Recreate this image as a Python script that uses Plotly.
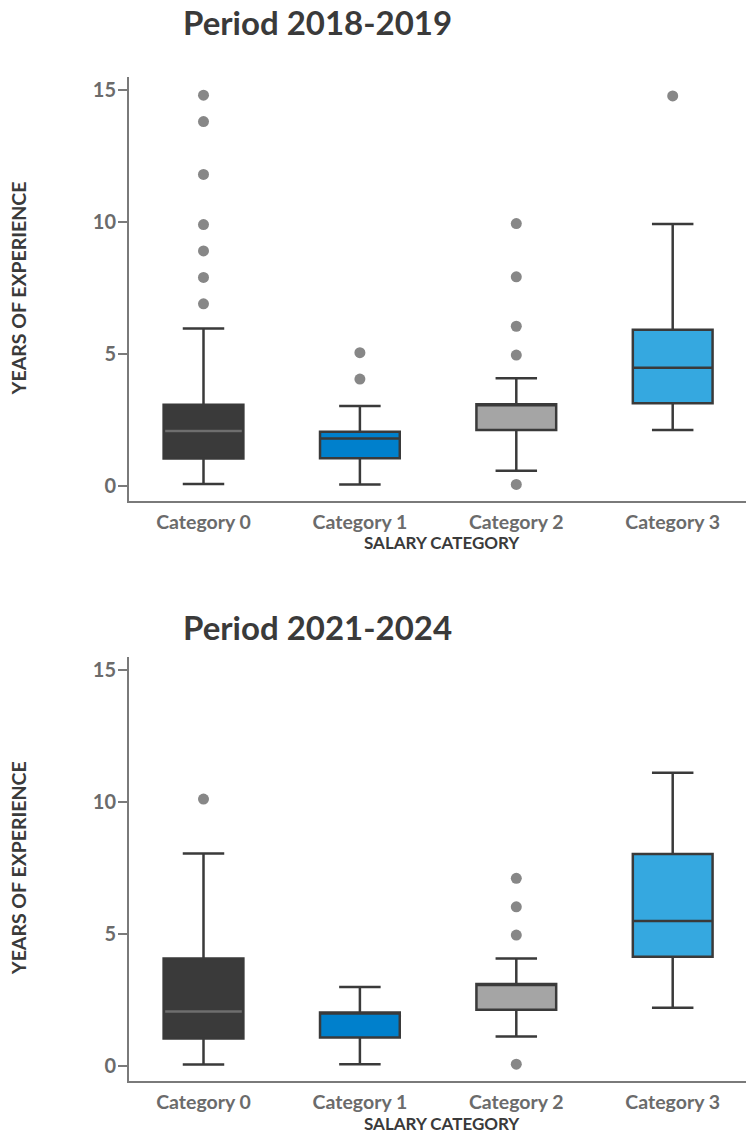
import plotly.graph_objects as go

# page body has an 8px margin: screen px = figure px + 8
OFF = 8
W, H = 754 - OFF, 1136 - OFF

categories = ["Category 0", "Category 1", "Category 2", "Category 3"]
y_ticks = [0, 5, 10, 15]

# Period 2018-2019
p1_lower = [0.08, 0.06, 0.58, 2.12]
p1_q1 = [1.04, 1.05, 2.12, 3.13]
p1_median = [2.08, 1.80, 3.10, 4.48]
p1_q3 = [3.08, 2.05, 3.10, 5.92]
p1_upper = [5.96, 3.03, 4.08, 9.92]
p1_outliers = [
    [6.9, 7.9, 8.9, 9.9, 11.8, 13.8, 14.8],
    [4.05, 5.05],
    [0.06, 4.96, 6.05, 7.92, 9.94],
    [14.77],
]

# Period 2021-2024
p2_lower = [0.05, 0.06, 1.11, 2.20]
p2_q1 = [1.03, 1.07, 2.12, 4.13]
p2_median = [2.06, 2.02, 3.10, 5.48]
p2_q3 = [4.06, 2.02, 3.10, 8.02]
p2_upper = [8.04, 2.98, 4.06, 11.10]
p2_outliers = [
    [10.1],
    [],
    [0.06, 4.95, 6.02, 7.1],
    [],
]

titles = ["Period 2018-2019", "Period 2021-2024"]

fills = ["#3a3a3a", "#0080cc", "#a5a5a5", "#35a8e0"]
EDGE = "#3a3a3a"
AXIS = "#7a7a7a"
TICKTXT = "#6b6b6b"
DARK = "#3a3a3a"
FONT = "Lato"

# screen-pixel layout of the reference
x_left, x_right = 129, 762
panels_px = [(76.7, 500.7), (656.5, 1080.5)]
title_y_px = [22, 627]
xtitle_y_px = [543, 1123]

def px_x(v):
    return (v - OFF) / W

def px_y(v):
    return 1 - (v - OFF) / H

fig = go.Figure()

datasets = [
    (p1_lower, p1_q1, p1_median, p1_q3, p1_upper, p1_outliers),
    (p2_lower, p2_q1, p2_median, p2_q3, p2_upper, p2_outliers),
]

for pi, (lo, q1, md, q3, up, outs) in enumerate(datasets):
    xa = "x" if pi == 0 else "x2"
    ya = "y" if pi == 0 else "y2"
    for ci, cat in enumerate(categories):
        fig.add_trace(go.Box(
            x=[cat], q1=[q1[ci]], median=[md[ci]], q3=[q3[ci]],
            lowerfence=[lo[ci]], upperfence=[up[ci]],
            fillcolor=fills[ci], line=dict(color=EDGE, width=2.5),
            width=0.51, whiskerwidth=0.52, boxpoints=False,
            xaxis=xa, yaxis=ya, showlegend=False, hoverinfo="skip",
        ))
        if ci == 0:
            # lighter median line on the dark box
            fig.add_trace(go.Box(
                x=[cat], q1=[md[ci]], median=[md[ci]], q3=[md[ci]],
                lowerfence=[md[ci]], upperfence=[md[ci]],
                fillcolor="rgba(0,0,0,0)", line=dict(color="#6e6e6e", width=2.5),
                width=0.49, whiskerwidth=0, boxpoints=False,
                xaxis=xa, yaxis=ya, showlegend=False, hoverinfo="skip",
            ))
        if outs[ci]:
            fig.add_trace(go.Scatter(
                x=[cat] * len(outs[ci]), y=outs[ci], mode="markers",
                marker=dict(color="#878787", size=11),
                xaxis=xa, yaxis=ya, showlegend=False, hoverinfo="skip",
            ))

xdom = [px_x(x_left), min(1.0, px_x(x_right))]
x_span = (min(x_right, 754) - x_left)
xr0 = -(203.5 - x_left) / 156.4
xr1 = xr0 + x_span / 156.4

axis_common_x = dict(
    type="category", categoryorder="array", categoryarray=categories,
    range=[xr0, xr1], domain=xdom, showline=True, linecolor=AXIS, linewidth=2,
    showgrid=False, zeroline=False, ticks="", ticklabelstandoff=3,
    tickfont=dict(family=FONT, size=19.5, color=TICKTXT, weight="bold"),
    fixedrange=True,
)
axis_common_y = dict(
    range=[-0.557, 15.5], tickvals=y_ticks, showline=True, linecolor=AXIS,
    linewidth=2, showgrid=False, zeroline=False, ticks="outside", ticklen=9,
    tickwidth=2, tickcolor=AXIS, ticklabelstandoff=-2,
    tickfont=dict(family=FONT, size=20, color=TICKTXT, weight="bold"),
    fixedrange=True,
)

fig.update_layout(
    width=W, height=H, margin=dict(l=0, r=0, t=0, b=0),
    paper_bgcolor="white", plot_bgcolor="white",
    xaxis=dict(axis_common_x, anchor="y"),
    yaxis=dict(axis_common_y, domain=[px_y(panels_px[0][1]), px_y(panels_px[0][0])], anchor="x"),
    xaxis2=dict(axis_common_x, anchor="y2"),
    yaxis2=dict(axis_common_y, domain=[px_y(panels_px[1][1]), px_y(panels_px[1][0])], anchor="x2"),
    boxmode="overlay",
)

annotations = []
for pi in range(2):
    top, bot = panels_px[pi]
    annotations.append(dict(
        text=titles[pi], xref="paper", yref="paper", x=px_x(181),
        y=px_y(title_y_px[pi]), xanchor="left", yanchor="middle",
        showarrow=False, font=dict(family=FONT, size=33, color=DARK, weight="bold"),
    ))
    annotations.append(dict(
        text="YEARS OF EXPERIENCE", xref="paper", yref="paper", x=px_x(18.5),
        y=px_y((top + bot) / 2), xanchor="center", yanchor="middle",
        textangle=-90, showarrow=False,
        font=dict(family=FONT, size=19.5, color=DARK, weight="bold"),
    ))
    annotations.append(dict(
        text="SALARY CATEGORY", xref="paper", yref="paper",
        x=px_x((x_left + 754) / 2), y=px_y(xtitle_y_px[pi]),
        xanchor="center", yanchor="middle", showarrow=False,
        font=dict(family=FONT, size=17, color=DARK, weight="bold"),
    ))
fig.update_layout(annotations=annotations)

fig.write_html("out.html")
